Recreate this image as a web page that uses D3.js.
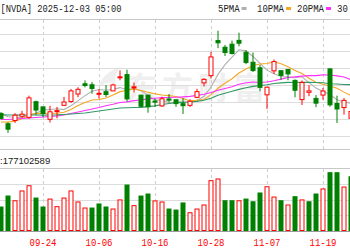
<!DOCTYPE html>
<html>
<head>
<meta charset="utf-8">
<script src="https://cdn.jsdelivr.net/npm/d3@7"></script>
<style>
html, body { margin: 0; padding: 0; background: #fff; overflow: hidden; }
svg { display: block; }
</style>
</head>
<body>
<svg id="chart" width="350" height="250"></svg>
<script>
// trading days shown (the window is cropped on both sides)
const dates = ['09-16','09-17','09-18','09-19','09-22','09-23','09-24','09-25','09-26','09-29','09-30',
  '10-01','10-02','10-03','10-06','10-07','10-08','10-09','10-10','10-13','10-14','10-15','10-16','10-17',
  '10-20','10-21','10-22','10-23','10-24','10-27','10-28','10-29','10-30','10-31',
  '11-03','11-04','11-05','11-06','11-07','11-10','11-11','11-12','11-13','11-14','11-17','11-18','11-19',
  '11-20','11-21','11-24','11-25'];
const open = [177.0,172.6,173.98,175.77,175.3,181.97,179.77,174.48,178.17,180.43,182.08,185.24,189.6,189.19,185.5,186.23,
  186.57,192.23,193.51,187.97,184.77,184.8,182.23,180.18,183.13,182.79,181.14,180.42,183.84,189.99,193.05,207.98,205.15,
  206.45,208.08,203.0,198.77,196.42,184.9,195.11,195.16,195.72,191.05,182.86,185.97,183.38,184.79,195.95,181.24,179.49,174.91];
const high = [177.5,173.2,177.1,178.08,184.55,182.42,179.78,180.26,179.77,184.0,187.35,188.14,191.05,190.36,187.23,189.06,
  189.6,195.3,195.62,190.11,184.8,184.87,183.28,184.1,185.2,182.79,183.44,183.03,187.47,192.0,203.15,212.19,206.16,
  207.97,211.34,203.97,202.92,197.62,188.32,199.94,195.42,195.89,191.44,191.01,189.0,184.8,187.86,196.0,184.56,183.5,178.16];
const low = [174.4,168.7,172.96,175.18,174.71,176.21,175.4,173.13,174.93,180.32,181.48,183.9,188.06,185.38,183.33,184.0,
  186.54,191.06,182.05,185.96,179.7,177.29,179.77,179.75,181.73,179.8,176.76,179.79,183.5,188.43,191.91,204.78,201.41,
  202.07,205.56,197.93,194.65,186.38,178.91,193.79,191.3,191.13,183.85,180.58,184.32,179.65,182.83,179.85,172.93,176.48,169.55];
const close = [174.88,170.29,176.24,176.67,183.61,178.43,176.97,177.69,178.19,181.85,186.58,187.24,188.89,187.62,185.54,185.04,
  189.11,192.57,183.16,188.32,180.03,179.83,181.81,183.22,182.64,181.16,180.28,182.16,186.26,191.49,201.03,207.04,202.89,
  202.49,206.88,198.69,195.21,188.08,188.15,199.05,193.16,193.8,186.86,190.17,186.6,181.36,186.52,180.64,178.88,182.55,177.82];
// volume in millions of shares, and whether the bar is drawn as an up (red) bar
const volume = [142,207,179,237,268,195,142,189,144,195,237,172,136,136,160,142,130,184,272,150,207,219,178,172,130,124,
  166,108,130,154,298,308,179,179,179,189,173,225,262,201,179,154,203,184,173,219,249,345,345,260,321];
const volUp = [0,0,1,1,1,0,0,1,1,1,1,1,1,0,0,0,1,1,0,1,0,0,1,1,0,0,0,1,1,1,1,1,0,0,1,0,0,0,1,1,0,1,0,1,0,0,1,0,0,1,0];
// moving averages as drawn
const ma5 = [176.99,175.58,175.40,175.17,176.34,177.05,178.38,178.67,178.98,178.63,180.26,182.31,184.55,186.44,187.17,
  186.87,187.24,187.98,187.08,187.64,186.64,184.78,182.63,182.64,181.51,181.73,181.82,181.89,182.50,184.27,188.24,193.60,
  197.74,200.99,204.07,203.60,201.23,198.27,195.40,193.84,192.73,192.45,192.20,192.61,190.12,187.76,186.30,185.06,182.80,
  181.99,181.28];
const ma10 = [173.33,173.30,173.76,174.72,176.25,177.02,176.98,177.04,177.07,177.48,178.65,180.35,181.61,182.71,182.90,
  183.56,184.78,186.26,186.76,187.41,186.75,186.01,185.30,184.86,184.57,184.19,183.30,182.26,182.57,182.89,184.99,187.71,
  189.82,191.74,194.17,195.92,197.41,198.01,198.20,198.95,198.16,196.84,195.24,194.00,191.98,190.24,189.38,188.63,187.70,
  186.05,184.52];
const ma20 = [174.40,174.40,174.62,174.83,175.04,175.26,175.47,175.68,175.89,176.32,176.96,177.60,178.23,178.87,179.51,
  180.29,180.88,181.65,181.92,182.44,182.70,183.18,183.46,183.79,183.74,183.87,184.04,184.26,184.67,185.15,185.87,186.86,
  187.56,188.30,189.37,190.05,190.36,190.13,190.38,190.92,191.58,192.27,192.53,192.87,193.07,193.08,193.39,193.32,192.95,
  192.50,191.34];
const ma30 = [176.40,176.30,176.30,176.25,176.30,176.32,176.25,176.30,176.38,176.53,176.74,176.96,177.17,177.60,178.02,
  178.45,178.87,179.30,179.38,179.51,179.58,179.89,180.22,180.76,181.24,181.59,181.69,181.85,182.13,182.59,183.46,184.69,
  185.58,186.44,187.21,187.89,188.50,188.84,189.18,189.75,189.97,190.19,190.12,190.20,190.24,190.12,190.03,189.63,189.49,
  189.30,189.22];
const tickLabels = ['09-24','10-06','10-16','10-28','11-07','11-19'];
// the fourth legend entry is cut by the right edge, only "30" shows
const maNames = ['5PMA','10PMA','20PMA','30'];
const titleText = '[NVDA] 2025-12-03 05:00';
const volText = ':177102589';

const RED = '#ff0000';
const GREEN = '#008000';
const MA_COLORS = ['#b0b0b0', '#f5a623', '#ff33ff', '#339966'];

const svg = d3.select('#chart');
svg.append('rect').attr('width', 350).attr('height', 250).attr('fill', '#fff');

const x = d3.scaleBand().domain(dates).range([-2.5, -2.5 + 7 * dates.length]);
const cx = (d) => x(d) + x.bandwidth() / 2;
const y = d3.scaleLinear().domain([161.85, 217.17]).range([149, 19]);
const yv = d3.scaleLinear().domain([0, 370]).range([231, 168.5]);

// watermark
const wm = svg.append('g').attr('fill', '#efefef');
wm.append('path')
  .attr('d', 'M98,88 C102,76 110,70 121,67 C116,72 114,78 116,86 C111,80 105,82 98,88 Z');
wm.append('text')
  .attr('x', 126).attr('y', 99)
  .attr('font-family', "'Noto Sans CJK SC', sans-serif")
  .attr('font-weight', 'bold')
  .attr('font-size', 31)
  .attr('letter-spacing', 5)
  .text('东方财富');

// grid
const grid = svg.append('g').attr('stroke', '#dcdcdc').attr('stroke-width', 1);
d3.range(34, 149, 17).forEach((gy) => {
  grid.append('line').attr('x1', 0).attr('x2', 350).attr('y1', gy + 0.5).attr('y2', gy + 0.5);
});
[0.25, 0.5, 0.75].forEach((f) => {
  const gy = Math.round(yv(370 * f));
  grid.append('line').attr('x1', 0).attr('x2', 350).attr('y1', gy + 0.5).attr('y2', gy + 0.5);
});
const frame = svg.append('g').attr('stroke', '#c8c8c8').attr('stroke-width', 1);
[19, 149, 168].forEach((gy) => {
  frame.append('line').attr('x1', 0).attr('x2', 350).attr('y1', gy + 0.5).attr('y2', gy + 0.5);
});
frame.append('line').attr('x1', 0).attr('x2', 350).attr('y1', 231.5).attr('y2', 231.5).attr('stroke', '#999');

const vgrid = svg.append('g').attr('stroke', '#cfcfcf').attr('stroke-dasharray', '3,3');
tickLabels.forEach((t) => {
  const gx = Math.round(cx(t)) + 0.5;
  vgrid.append('line').attr('x1', gx).attr('x2', gx).attr('y1', 20).attr('y2', 149);
  vgrid.append('line').attr('x1', gx).attr('x2', gx).attr('y1', 169).attr('y2', 231);
});

// moving average lines
const line = d3.line().x((d, i) => cx(dates[i])).y((d) => y(d));
[ma5, ma10, ma20, ma30].forEach((s, k) => {
  svg.append('path')
    .datum(s)
    .attr('fill', 'none')
    .attr('stroke', MA_COLORS[k])
    .attr('stroke-width', 1.1)
    .attr('d', line);
});

// candles
const idx = d3.range(dates.length);
const candle = svg.append('g').selectAll('g').data(idx).enter().append('g');
candle.append('line')
  .attr('x1', (i) => cx(dates[i])).attr('x2', (i) => cx(dates[i]))
  .attr('y1', (i) => y(high[i])).attr('y2', (i) => y(low[i]))
  .attr('stroke', (i) => close[i] >= open[i] ? RED : GREEN);
candle.append('rect')
  .attr('x', (i) => cx(dates[i]) - 2)
  .attr('width', 4)
  .attr('y', (i) => y(Math.max(open[i], close[i])))
  .attr('height', (i) => Math.max(1, Math.abs(y(open[i]) - y(close[i]))))
  .attr('fill', (i) => close[i] >= open[i] ? '#fff' : GREEN)
  .attr('stroke', (i) => close[i] >= open[i] ? RED : GREEN);

// volume bars
svg.append('g').selectAll('rect').data(idx).enter().append('rect')
  .attr('x', (i) => cx(dates[i]) - 2)
  .attr('width', 4)
  .attr('y', (i) => yv(volume[i]))
  .attr('height', (i) => yv(0) - yv(volume[i]) - 0.5)
  .attr('fill', (i) => volUp[i] ? '#fff' : GREEN)
  .attr('stroke', (i) => volUp[i] ? RED : GREEN);

// x axis
const xAxis = svg.append('g')
  .attr('transform', 'translate(0,231)')
  .call(d3.axisBottom(x).tickValues(tickLabels).tickSize(0).tickPadding(6));
xAxis.select('.domain').remove();
xAxis.selectAll('text')
  .attr('fill', RED)
  .attr('font-family', "'Liberation Mono', monospace")
  .attr('font-size', 11)
  .attr('dy', '0.78em')
  .attr('textLength', 27)
  .attr('lengthAdjust', 'spacingAndGlyphs');

// header
const mono = "'Liberation Mono', monospace";
svg.append('text')
  .attr('x', 0.5).attr('y', 12)
  .attr('font-family', mono).attr('font-size', 10.5).attr('fill', '#222')
  .attr('textLength', 121).attr('lengthAdjust', 'spacingAndGlyphs')
  .text(titleText);

const legendX = [218, 257, 297, 337];
maNames.forEach((name, k) => {
  const w = name.length * 5.4;
  svg.append('text')
    .attr('x', legendX[k]).attr('y', 12)
    .attr('font-family', mono).attr('font-size', 10.5).attr('fill', '#222')
    .attr('textLength', w).attr('lengthAdjust', 'spacingAndGlyphs')
    .text(name);
  if (name.length > 2) {
    svg.append('rect')
      .attr('x', legendX[k] + w + 2).attr('y', 7).attr('width', 5).attr('height', 3)
      .attr('fill', MA_COLORS[k]);
  }
});

svg.append('text')
  .attr('x', 0).attr('y', 163.5)
  .attr('font-family', "'Liberation Sans', sans-serif").attr('font-size', 9.5).attr('fill', '#222')
  .text(volText);
</script>
</body>
</html>
